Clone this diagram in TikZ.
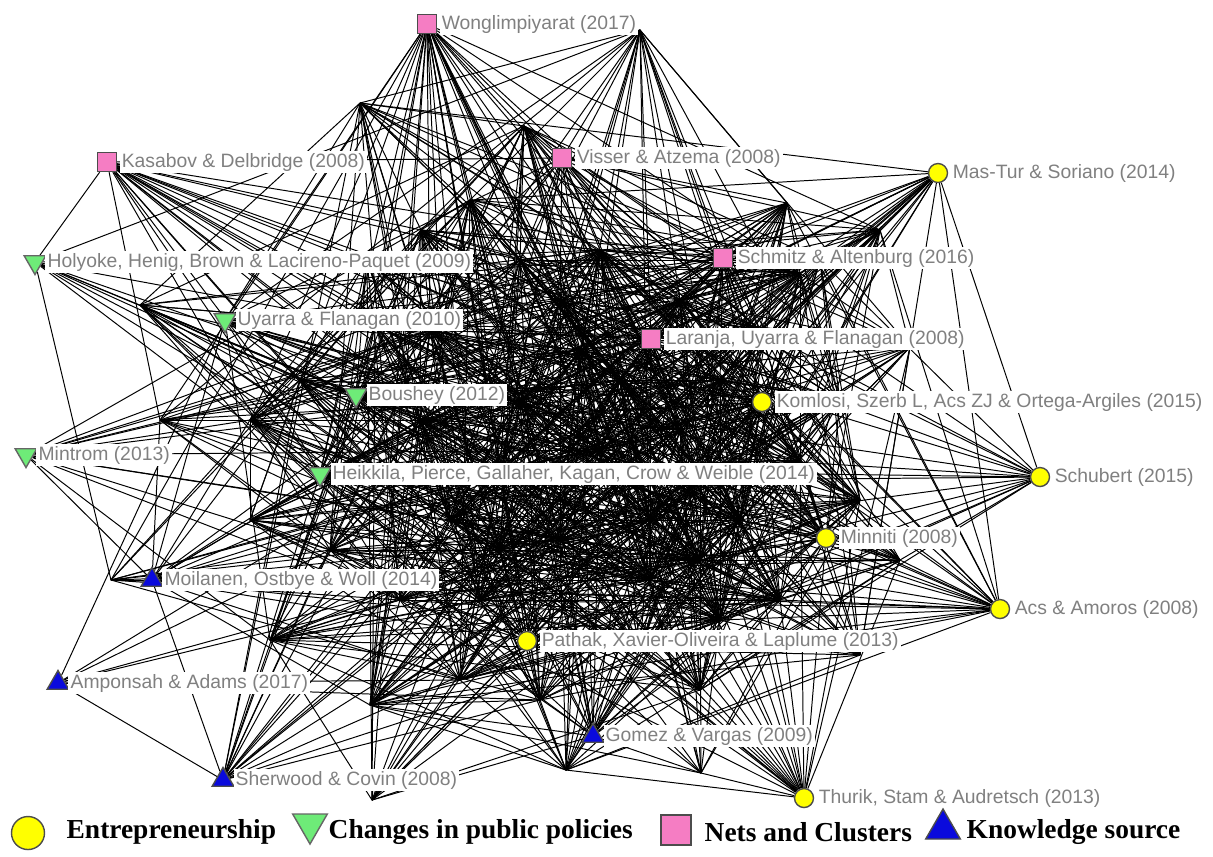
\documentclass[tikz,border=0pt]{standalone}
\usepackage{fontspec}
\setmainfont{Liberation Serif}
\setsansfont{Liberation Sans}
\usetikzlibrary{shapes.geometric}
\pgfdeclarelayer{background}
\pgfsetlayers{background,main}

\definecolor{entyellow}{RGB}{255,255,0}
\definecolor{polgreen}{RGB}{110,235,120}
\definecolor{netpink}{RGB}{245,125,195}
\definecolor{knowblue}{RGB}{10,10,220}
\definecolor{labgray}{RGB}{128,128,128}

\tikzset{
  ent/.style={circle,draw=black!70,fill=entyellow,minimum size=0.19cm,inner sep=0pt},
  pol/.style={regular polygon,regular polygon sides=3,shape border rotate=180,
    draw=black!60,fill=polgreen,minimum size=0.25cm,inner sep=0pt},
  net/.style={rectangle,draw=black!70,fill=netpink,minimum size=0.19cm,inner sep=0pt},
  know/.style={regular polygon,regular polygon sides=3,draw=black!70,fill=knowblue,
    minimum size=0.25cm,inner sep=0pt},
  lab/.style={fill=white,text=labgray,font=\sffamily\fontsize{5.5}{6}\selectfont,
    inner sep=0.6pt,label distance=0.5pt},
  tie/.style={line width=0.28pt,black},
  legtext/.style={font=\rmfamily\bfseries\fontsize{7.8}{9}\selectfont,anchor=west,inner sep=0pt}
}

% name/x/y/weight -- papers first, then the unlabelled crossing points
\def\verts{wong/427/24/8, kasa/107/162/7, viss/562/158/8, mast/938/173/7,
  holy/35/262/4, schm/723/258/8, uyar/225/320/6, lara/651/339/9,
  bous/356/395/7, koml/762/402/9, mint/26/455/4, heik/320/474/7,
  schu/1040/477/6, minn/826/538/8, moil/152/580/6, acs/1000/609/7,
  path/527/641/8, ampo/58/683/4, gome/593/736/6, sher/223/780/6,
  thur/804/798/7,
  ha/640/30/6, hb/360/103/6, hc/524/126/7, hd/421/230/8, he/367/260/7,
  hf/140/305/5, hg/375/325/8, hh/787/203/7, hi/880/230/6, hj/800/273/8,
  hk/910/347/7, hl/111/580/5, hm/370/705/7, hn/372/800/4, ho/566/770/6,
  hp/701/773/6, hq/860/655/6, hr/270/640/7, hs/600/450/10, ht/700/480/10,
  hu/520/400/10, hv/650/580/10, hw/450/520/9, hx/560/300/9, hy/720/380/9,
  hz/480/600/9, hA/800/460/9, hB/250/520/7, hC/640/650/8, hD/700/690/7,
  hE/250/420/7, hF/470/200/7, hG/900/560/6, hH/160/420/5,
  j1/430/330/9, j2/500/470/10, j3/560/540/10, j4/620/380/10, j5/680/430/10,
  j6/740/520/10, j7/780/600/9, j8/540/700/7, j9/420/420/9, j10/600/250/9,
  j11/680/300/9, j12/760/330/9, j13/840/400/8, j14/860/500/8, j15/400/600/8,
  j16/330/550/8, j17/460/680/7, j18/720/620/9, j19/580/350/10, j20/650/520/10,
  j21/520/260/8, j22/300/380/7, j23/820/260/7, j24/500/550/10, j25/700/560/10}

\begin{document}
\begin{tikzpicture}[x=0.01cm,y=-0.01cm]
  \useasboundingbox (0,0) rectangle (1213,856);
  \foreach \n/\x/\y/\w in \verts {\coordinate (\n) at (\x,\y);}

  % Nets and clusters
  \node[net,label={[lab]right:Wonglimpiyarat (2017)}] (wong) at (wong) {};
  \node[net,label={[lab]right:Kasabov \& Delbridge (2008)}] (kasa) at (kasa) {};
  \node[net,label={[lab]right:Visser \& Atzema (2008)}] (viss) at (viss) {};
  \node[net,label={[lab]right:Schmitz \& Altenburg (2016)}] (schm) at (schm) {};
  \node[net,label={[lab]right:Laranja, Uyarra \& Flanagan (2008)}] (lara) at (lara) {};
  % Entrepreneurship
  \node[ent,label={[lab]right:Mas-Tur \& Soriano (2014)}] (mast) at (mast) {};
  \node[ent,label={[lab]right:Komlosi, Szerb L, Acs ZJ \& Ortega-Argiles (2015)}] (koml) at (koml) {};
  \node[ent,label={[lab]right:Schubert (2015)}] (schu) at (schu) {};
  \node[ent,label={[lab]right:Minniti (2008)}] (minn) at (minn) {};
  \node[ent,label={[lab]right:Acs \& Amoros (2008)}] (acs) at (acs) {};
  \node[ent,label={[lab]right:Pathak, Xavier-Oliveira \& Laplume (2013)}] (path) at (path) {};
  \node[ent,label={[lab]right:Thurik, Stam \& Audretsch (2013)}] (thur) at (thur) {};
  % Changes in public policies
  \node[pol,label={[lab]right:Holyoke, Henig, Brown \& Lacireno-Paquet (2009)}] (holy) at (holy) {};
  \node[pol,label={[lab]right:Uyarra \& Flanagan (2010)}] (uyar) at (uyar) {};
  \node[pol,label={[lab]right:Boushey (2012)}] (bous) at (bous) {};
  \node[pol,label={[lab]right:Mintrom (2013)}] (mint) at (mint) {};
  \node[pol,label={[lab]right:Heikkila, Pierce, Gallaher, Kagan, Crow \& Weible (2014)}] (heik) at (heik) {};
  % Knowledge source
  \node[know,label={[lab]right:Moilanen, Ostbye \& Woll (2014)}] (moil) at (moil) {};
  \node[know,label={[lab]right:Amponsah \& Adams (2017)}] (ampo) at (ampo) {};
  \node[know,label={[lab]right:Gomez \& Vargas (2009)}] (gome) at (gome) {};
  \node[know,label={[lab]right:Sherwood \& Covin (2008)}] (sher) at (sher) {};

  % the ties
  \begin{pgfonlayer}{background}
    \pgfmathsetseed{17}
    \foreach \a/\xa/\ya/\wa [count=\i] in \verts {
      \foreach \b/\xb/\yb/\wb [count=\j] in \verts {
        \ifnum\j>\i
          \pgfmathtruncatemacro\keep{rnd < \wa*\wb/100*max(0.12,1-veclen(\xa-\xb,\ya-\yb)/1200)}
          \ifnum\keep=1 \draw[tie] (\a) -- (\b); \fi
        \fi
      }
    }
  \end{pgfonlayer}

  % legend
  \node[ent,minimum size=0.33cm] (lgent) at (28,833) {};
  \node[legtext] (lgentt) at (66,832) {Entrepreneurship};
  \node[pol,minimum size=0.4cm] (lgpol) at (310,824) {};
  \node[legtext] (lgpolt) at (328,832) {Changes in public policies};
  \node[net,minimum size=0.3cm] (lgnet) at (676,830) {};
  \node[legtext] (lgnett) at (704,832) {Nets and Clusters};
  \node[know,minimum size=0.4cm] (lgknow) at (943,829) {};
  \node[legtext] (lgknowt) at (966,832) {Knowledge source};
\end{tikzpicture}
\end{document}
